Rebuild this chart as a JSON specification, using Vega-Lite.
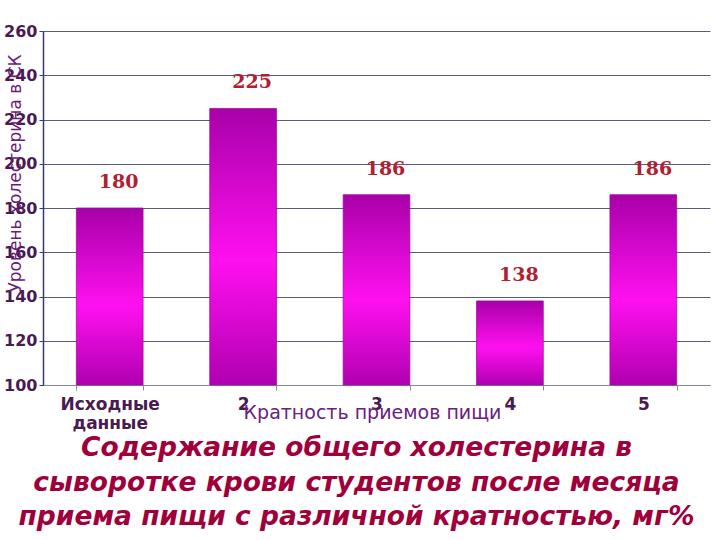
{
  "$schema": "https://vega.github.io/schema/vega-lite/v6.json",
  "autosize": {"type": "none"},
  "padding": {"left": 43, "top": 31, "right": 10, "bottom": 155},
  "width": 667,
  "height": 354,
  "background": "white",
  "title": {
    "text": ["Содержание общего холестерина в", "сыворотке крови студентов после месяца", "приема пищи с различной кратностью, мг%"],
    "orient": "bottom",
    "anchor": "middle",
    "frame": "group",
    "offset": 4,
    "font": "DejaVu Sans",
    "fontSize": 26.5,
    "fontStyle": "italic",
    "fontWeight": "bold",
    "color": "#a0003a",
    "lineHeight": 34.5,
    "dx": -20
  },
  "data": {
    "values": [
      {"group": "Исходные данные", "value": 180},
      {"group": "2", "value": 225},
      {"group": "3", "value": 186},
      {"group": "4", "value": 138},
      {"group": "5", "value": 186}
    ]
  },
  "encoding": {
    "x": {
      "field": "group",
      "type": "nominal",
      "sort": null,
      "scale": {"paddingInner": 0.5, "paddingOuter": 0.25},
      "axis": {
        "title": "Кратность приемов пищи",
        "titleFont": "DejaVu Sans",
        "titleFontSize": 19,
        "titleFontWeight": "normal",
        "titleColor": "#6a2080",
        "titleY": 27,
        "titleX": 329,
        "titleAlign": "center",
        "titleBaseline": "middle",
        "labelAngle": 0,
        "labelFont": "DejaVu Sans",
        "labelFontSize": 17,
        "labelFontWeight": "bold",
        "labelColor": "#4a1a50",
        "labelPadding": 6,
        "labelLineHeight": 19,
        "labelExpr": "datum.value == 'Исходные данные' ? ['Исходные', 'данные'] : datum.label",
        "tickBand": "extent",
        "tickColor": "#888899",
        "tickSize": 5,
        "domainColor": "#888899",
        "grid": false
      }
    },
    "y": {
      "field": "value",
      "type": "quantitative",
      "scale": {"domain": [100, 260], "zero": false, "nice": false},
      "axis": {
        "values": [100, 120, 140, 160, 180, 200, 220, 240, 260],
        "title": "Уровень холестерина в СК",
        "titleFont": "DejaVu Sans",
        "titleFontSize": 17,
        "titleFontWeight": "normal",
        "titleColor": "#6a1a7a",
        "titleAngle": -90,
        "titleX": -28,
        "titleY": 142,
        "titleAlign": "center",
        "titleBaseline": "middle",
        "labelFont": "DejaVu Sans",
        "labelFontSize": 16,
        "labelFontWeight": "bold",
        "labelColor": "#4a1a50",
        "labelPadding": 2,
        "tickColor": "#3a3a6a",
        "tickSize": 4,
        "domainColor": "#3a3a6a",
        "domainWidth": 1.5,
        "grid": true,
        "gridColor": "#5a5a80",
        "gridWidth": 1.2
      }
    }
  },
  "layer": [
    {
      "mark": {
        "type": "bar",
        "color": {
          "gradient": "linear",
          "x1": 0, "y1": 0, "x2": 0, "y2": 1,
          "stops": [
            {"offset": 0, "color": "#a800a8"},
            {"offset": 0.55, "color": "#ff10f0"},
            {"offset": 1, "color": "#b000b0"}
          ]
        },
        "stroke": "#9a109a",
        "strokeWidth": 0.8
      },
      "encoding": {"y2": {"datum": 100}}
    },
    {
      "mark": {
        "type": "text",
        "font": "DejaVu Serif",
        "fontSize": 19,
        "fontWeight": "bold",
        "color": "#b02030",
        "baseline": "middle",
        "dy": -26,
        "dx": 9
      },
      "encoding": {"text": {"field": "value", "type": "quantitative"}}
    }
  ],
  "config": {"view": {"stroke": null}}
}
